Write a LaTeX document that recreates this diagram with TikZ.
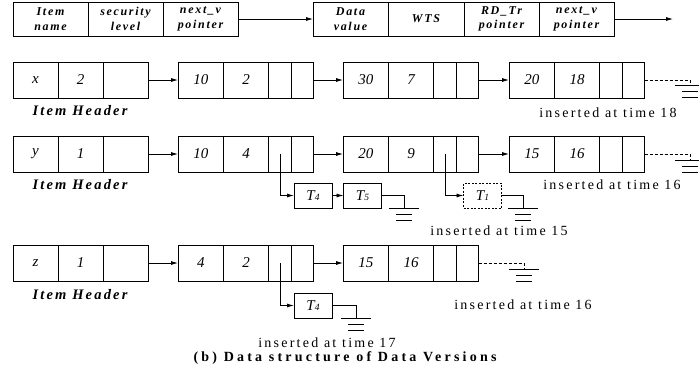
\documentclass[tikz,border=0pt]{standalone}
\usepackage{fontspec}
\setmainfont{Liberation Serif}
\newfontfamily\topfont[LetterSpace=14]{Liberation Serif}
\newfontfamily\spacedfont[LetterSpace=15]{Liberation Serif}
\newfontfamily\widefont[LetterSpace=16]{Liberation Serif}
\newfontfamily\capfont[LetterSpace=23]{Liberation Serif}
\usetikzlibrary{arrows.meta}

% one cell of a record: top-left corner given
\tikzset{
  cell/.style={draw, line width=0.8pt, inner sep=0pt, outer sep=0pt,
    anchor=north west, minimum height=36pt,
    font=\fontsize{15}{15}\selectfont\itshape},
  topcell/.style={draw, line width=0.8pt, inner sep=0pt, outer sep=0pt,
    anchor=north west, minimum height=34pt, align=center,
    font=\fontsize{12}{14.5}\selectfont\topfont\bfseries\itshape},
  txn/.style={draw, line width=0.8pt, inner sep=0pt, outer sep=0pt,
    minimum width=38pt, minimum height=25pt,
    font=\fontsize{15}{15}\selectfont\itshape},
  link/.style={line width=0.8pt, -{Latex[length=7pt,width=4pt]}},
  wire/.style={line width=0.8pt},
  nilwire/.style={line width=0.8pt, dashed, dash pattern=on 3pt off 2pt},
  hdrlabel/.style={font=\fontsize{14.5}{15}\selectfont\spacedfont\bfseries\itshape},
  note/.style={font=\fontsize{14}{15}\selectfont\widefont},
}

% item header record: name, top y, item letter, level
\newcommand\hdrrec[4]{%
  \node[cell, minimum width=45pt] (#1a) at (13,#2) {#3};
  \node[cell, minimum width=45pt] (#1b) at (#1a.north east) {#4};
  \node[cell, minimum width=45pt] (#1c) at (#1b.north east) {};
}
% data version record: name, left x, top y, value, WTS
\newcommand\verrec[5]{%
  \node[cell, minimum width=45.5pt] (#1a) at (#2,#3) {#4};
  \node[cell, minimum width=45pt] (#1b) at (#1a.north east) {#5};
  \node[cell, minimum width=23pt] (#1c) at (#1b.north east) {};
  \node[cell, minimum width=22pt] (#1d) at (#1c.north east) {};
}
% null pointer ground symbol hanging below a named coordinate
\newcommand\groundsym[1]{%
  \draw[wire] ([xshift=-15pt]#1) -- ([xshift=15pt]#1);
  \draw[wire] ([xshift=-8pt,yshift=-6pt]#1) -- ([xshift=8pt,yshift=-6pt]#1);
  \draw[wire] ([xshift=-8pt,yshift=-12pt]#1) -- ([xshift=8pt,yshift=-12pt]#1);
}
\newcommand\tsub[1]{\textit{T}{\fontsize{9.5}{9.5}\selectfont\itshape #1}}

\begin{document}
\begin{tikzpicture}[x=1pt, y=-1pt]
\useasboundingbox (0,0) rectangle (699,383);

% ---- field layout of the two record kinds ----
\node[topcell, minimum width=75pt] (fname) at (13,2) {Item\\name};
\node[topcell, minimum width=75pt] (flevel) at (fname.north east) {security\\level};
\node[topcell, minimum width=75pt] (fnext) at (flevel.north east) {next\_v\\pointer};
\node[topcell, minimum width=75pt] (fval) at (313,2) {Data\\value};
\node[topcell, minimum width=76pt] (fwts) at (fval.north east) {WTS};
\node[topcell, minimum width=75pt] (frd) at (fwts.north east) {RD\_Tr\\pointer};
\node[topcell, minimum width=75pt] (fnv) at (frd.north east) {next\_v\\pointer};
\coordinate (fend) at (673,19);
\draw[link] (fnext.east) -- (fval.west);
\draw[link] (fnv.east) -- (fend);

% ---- item x ----
\hdrrec{xh}{62}{x}{2}
\verrec{xa}{178}{62}{10}{2}
\verrec{xb}{343}{62}{30}{7}
\verrec{xc}{509}{62}{20}{18}
\draw[link] (xhc.east) -- (xaa.west);
\draw[link] (xad.east) -- (xba.west);
\draw[link] (xbd.east) -- (xca.west);
\coordinate (gx) at (690,85);
\draw[nilwire] (xcd.east) -| (gx);
\groundsym{gx}
\node[hdrlabel] (xlab) at (80,111) {Item Header};
\node[note] (xnote) at (608,113) {inserted at time 18};

% ---- item y ----
\hdrrec{yh}{136}{y}{1}
\verrec{ya}{178}{136}{10}{4}
\verrec{yb}{343}{136}{20}{9}
\verrec{yc}{509}{136}{15}{16}
\draw[link] (yhc.east) -- (yaa.west);
\draw[link] (yad.east) -- (yba.west);
\draw[link] (ybd.east) -- (yca.west);
\coordinate (gy) at (690,160);
\draw[nilwire] (ycd.east) -| (gy);
\groundsym{gy}
\node[hdrlabel] (ylab) at (80,185) {Item Header};
\node[note] (ynote) at (612,185) {inserted at time 16};

\node[txn] (yt4) at (313,195.5) {\tsub{4}};
\node[txn] (yt5) at (362.5,195.5) {\tsub{5}};
\node[txn, dashed, dash pattern=on 2pt off 1.5pt] (yt1) at (482.5,195.5) {\tsub{1}};
\draw[link] (yac.center) |- (yt4.west);
\draw[link] (yt4.east) -- (yt5.west);
\coordinate (gy5) at (404,208);
\draw[wire] (yt5.east) -| (gy5);
\groundsym{gy5}
\draw[link] (ybc.center) |- (yt1.west);
\coordinate (gy1) at (523,208);
\draw[wire] (yt1.east) -| (gy1);
\groundsym{gy1}
\node[note] (ynote15) at (499,231) {inserted at time 15};

% ---- item z ----
\hdrrec{zh}{245}{z}{1}
\verrec{za}{178}{245}{4}{2}
\verrec{zb}{343}{245}{15}{16}
\draw[link] (zhc.east) -- (zaa.west);
\draw[link] (zad.east) -- (zba.west);
\coordinate (gz) at (524,269);
\draw[nilwire] (zbd.east) -| (gz);
\groundsym{gz}
\node[hdrlabel] (zlab) at (80,295) {Item Header};
\node[note] (znote) at (523,305) {inserted at time 16};

\node[txn] (zt4) at (313,305.5) {\tsub{4}};
\draw[link] (zac.center) |- (zt4.west);
\coordinate (gz4) at (356,318);
\draw[wire] (zt4.east) -| (gz4);
\groundsym{gz4}
\node[note] (znote17) at (327,343) {inserted at time 17};

% ---- caption ----
\node[font=\fontsize{14}{15}\selectfont\capfont\bfseries] (cap) at (345,358)
  {(b) Data structure of Data Versions};
\end{tikzpicture}
\end{document}
